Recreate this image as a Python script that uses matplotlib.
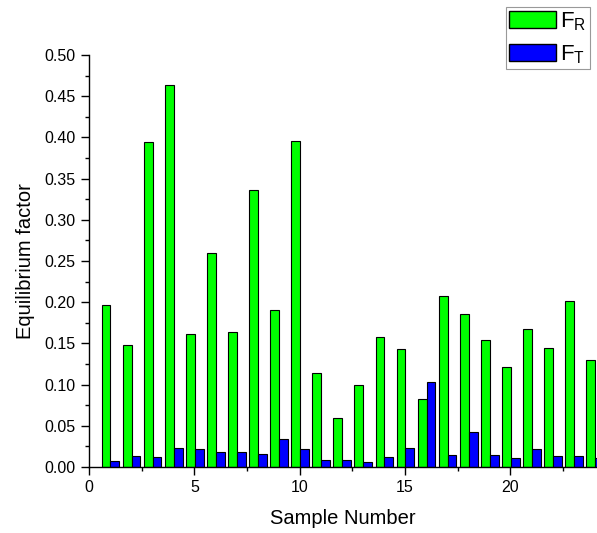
import numpy as np
import matplotlib.pyplot as plt
from matplotlib.patches import Patch
from matplotlib.ticker import MultipleLocator

plt.rcParams['font.family'] = ['Liberation Sans', 'DejaVu Sans']
plt.rcParams['mathtext.fontset'] = 'custom'
plt.rcParams['mathtext.rm'] = 'Liberation Sans'

# values
samples = np.arange(1, 25)
f_r = [0.197, 0.148, 0.394, 0.464, 0.162, 0.260, 0.164, 0.336, 0.190, 0.396,
       0.114, 0.059, 0.100, 0.158, 0.143, 0.083, 0.208, 0.186, 0.154, 0.121,
       0.168, 0.145, 0.202, 0.130]
f_t = [0.007, 0.013, 0.012, 0.023, 0.022, 0.018, 0.018, 0.016, 0.034, 0.022,
       0.009, 0.009, 0.006, 0.012, 0.023, 0.103, 0.015, 0.043, 0.015, 0.011,
       0.022, 0.013, 0.013, 0.011]

fig = plt.figure(figsize=(5.97, 5.33), dpi=100)
ax = fig.add_axes([89 / 597, 66 / 533, 508 / 597, 412 / 533])

w = 0.42
ax.bar(samples - w / 2 + 0.02, f_r, width=w, color='#00ff00', edgecolor='black', linewidth=0.8)
ax.bar(samples + w / 2 + 0.02, f_t, width=w, color='#0000ff', edgecolor='black', linewidth=0.8)

ax.set_xlim(0, 24.11)
ax.set_ylim(0, 0.5)
ax.xaxis.set_major_locator(MultipleLocator(5))
ax.xaxis.set_minor_locator(MultipleLocator(2.5))
ax.yaxis.set_major_locator(MultipleLocator(0.05))
ax.yaxis.set_minor_locator(MultipleLocator(0.025))
ax.yaxis.set_major_formatter(plt.FormatStrFormatter('%.2f'))

for s in ['top', 'right']:
    ax.spines[s].set_visible(False)
for s in ['left', 'bottom']:
    ax.spines[s].set_linewidth(1.0)
ax.tick_params(which='major', direction='out', length=6, width=1.0, labelsize=11.5)
ax.tick_params(which='minor', direction='out', length=3, width=1.0)

ax.set_xlabel('Sample Number', fontsize=14.5, labelpad=10)
ax.set_ylabel('Equilibrium factor', fontsize=14.5, labelpad=7)

handles = [Patch(facecolor='#00ff00', edgecolor='black', label=r'F$_\mathregular{R}$'),
           Patch(facecolor='#0000ff', edgecolor='black', label=r'F$_\mathregular{T}$')]
leg = fig.legend(handles=handles, loc='upper right', bbox_to_anchor=(590 / 597, 1 - 7 / 533),
                 bbox_transform=fig.transFigure, borderaxespad=0, fontsize=16,
                 handlelength=2.1, handleheight=0.8, handletextpad=0.2,
                 labelspacing=0.45, borderpad=0.15, fancybox=False, framealpha=1)
leg.get_frame().set_edgecolor('#999999')
leg.get_frame().set_linewidth(0.8)

fig.savefig('out.png', dpi=100)
